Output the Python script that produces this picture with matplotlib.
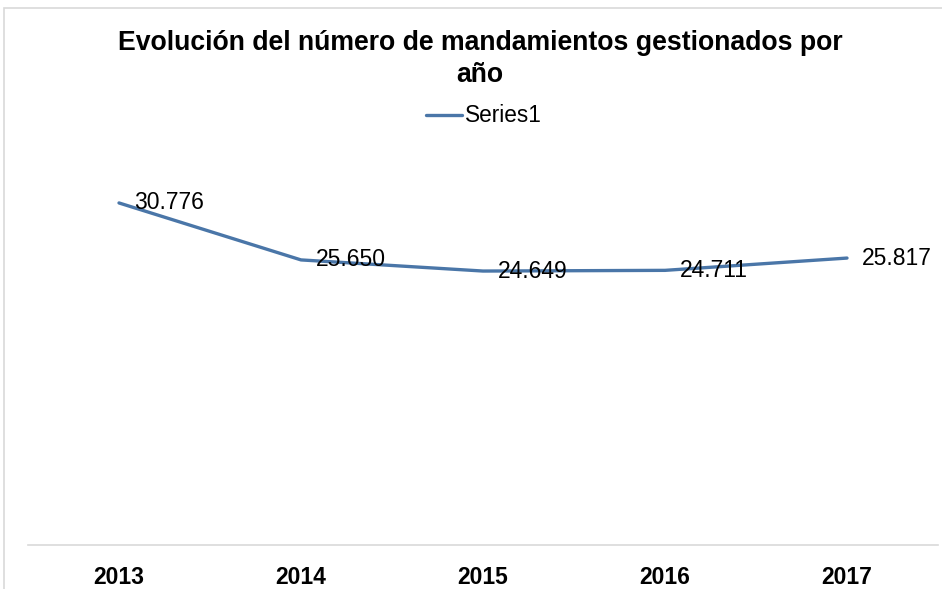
import matplotlib
matplotlib.use("Agg")
import matplotlib.pyplot as plt
from matplotlib.patches import Rectangle

plt.rcParams['font.family'] = ['Liberation Sans', 'DejaVu Sans']

years = ["2013", "2014", "2015", "2016", "2017"]
values = [30776, 25650, 24649, 24711, 25817]
labels = ["30.776", "25.650", "24.649", "24.711", "25.817"]
series_name = "Series1"

W, H = 942, 589
fig = plt.figure(figsize=(W / 100, H / 100), dpi=100)
fig.patch.set_facecolor("white")

# outer chart border (top and left visible)
fig.add_artist(Rectangle((4 / W, -0.1), 1.2, 1 - 8 / H + 0.1, transform=fig.transFigure,
                         fill=False, edgecolor="#d9d9d9", linewidth=1.2))

ax = fig.add_axes([28 / W, 1 - 545 / H, 910 / W, (545 - 156) / H])
x = list(range(len(years)))
color = "#4a76a8"
line, = ax.plot(x, values, color=color, linewidth=2.4, solid_capstyle="round",
                label=series_name)
ax.set_xlim(-0.5, len(years) - 0.5)
ax.set_ylim(0, 35000)
ax.set_yticks([])
ax.set_xticks(x)
ax.set_xticklabels(years, fontsize=16.5, fontweight="bold")
ax.tick_params(axis="x", length=0, pad=15)
for s in ["top", "right", "left"]:
    ax.spines[s].set_visible(False)
ax.spines["bottom"].set_color("#d9d9d9")
ax.spines["bottom"].set_linewidth(1.2)

for xi, v, lab in zip(x, values, labels):
    ax.annotate(lab, (xi, v), xytext=(11, 0), textcoords="offset points",
                ha="left", va="center", fontsize=16.5, color="black")

fig.text(480 / W, 1 - 59 / H, "Evolución del número de mandamientos gestionados por\naño",
         ha="center", va="center", fontsize=19.2, fontweight="bold", linespacing=1.25)

fig.legend(handles=[line], loc="center", bbox_to_anchor=(484 / W, 1 - 116 / H),
           frameon=False, fontsize=16.3, handlelength=1.6, handletextpad=0.15)

fig.savefig("out.png", dpi=100)
